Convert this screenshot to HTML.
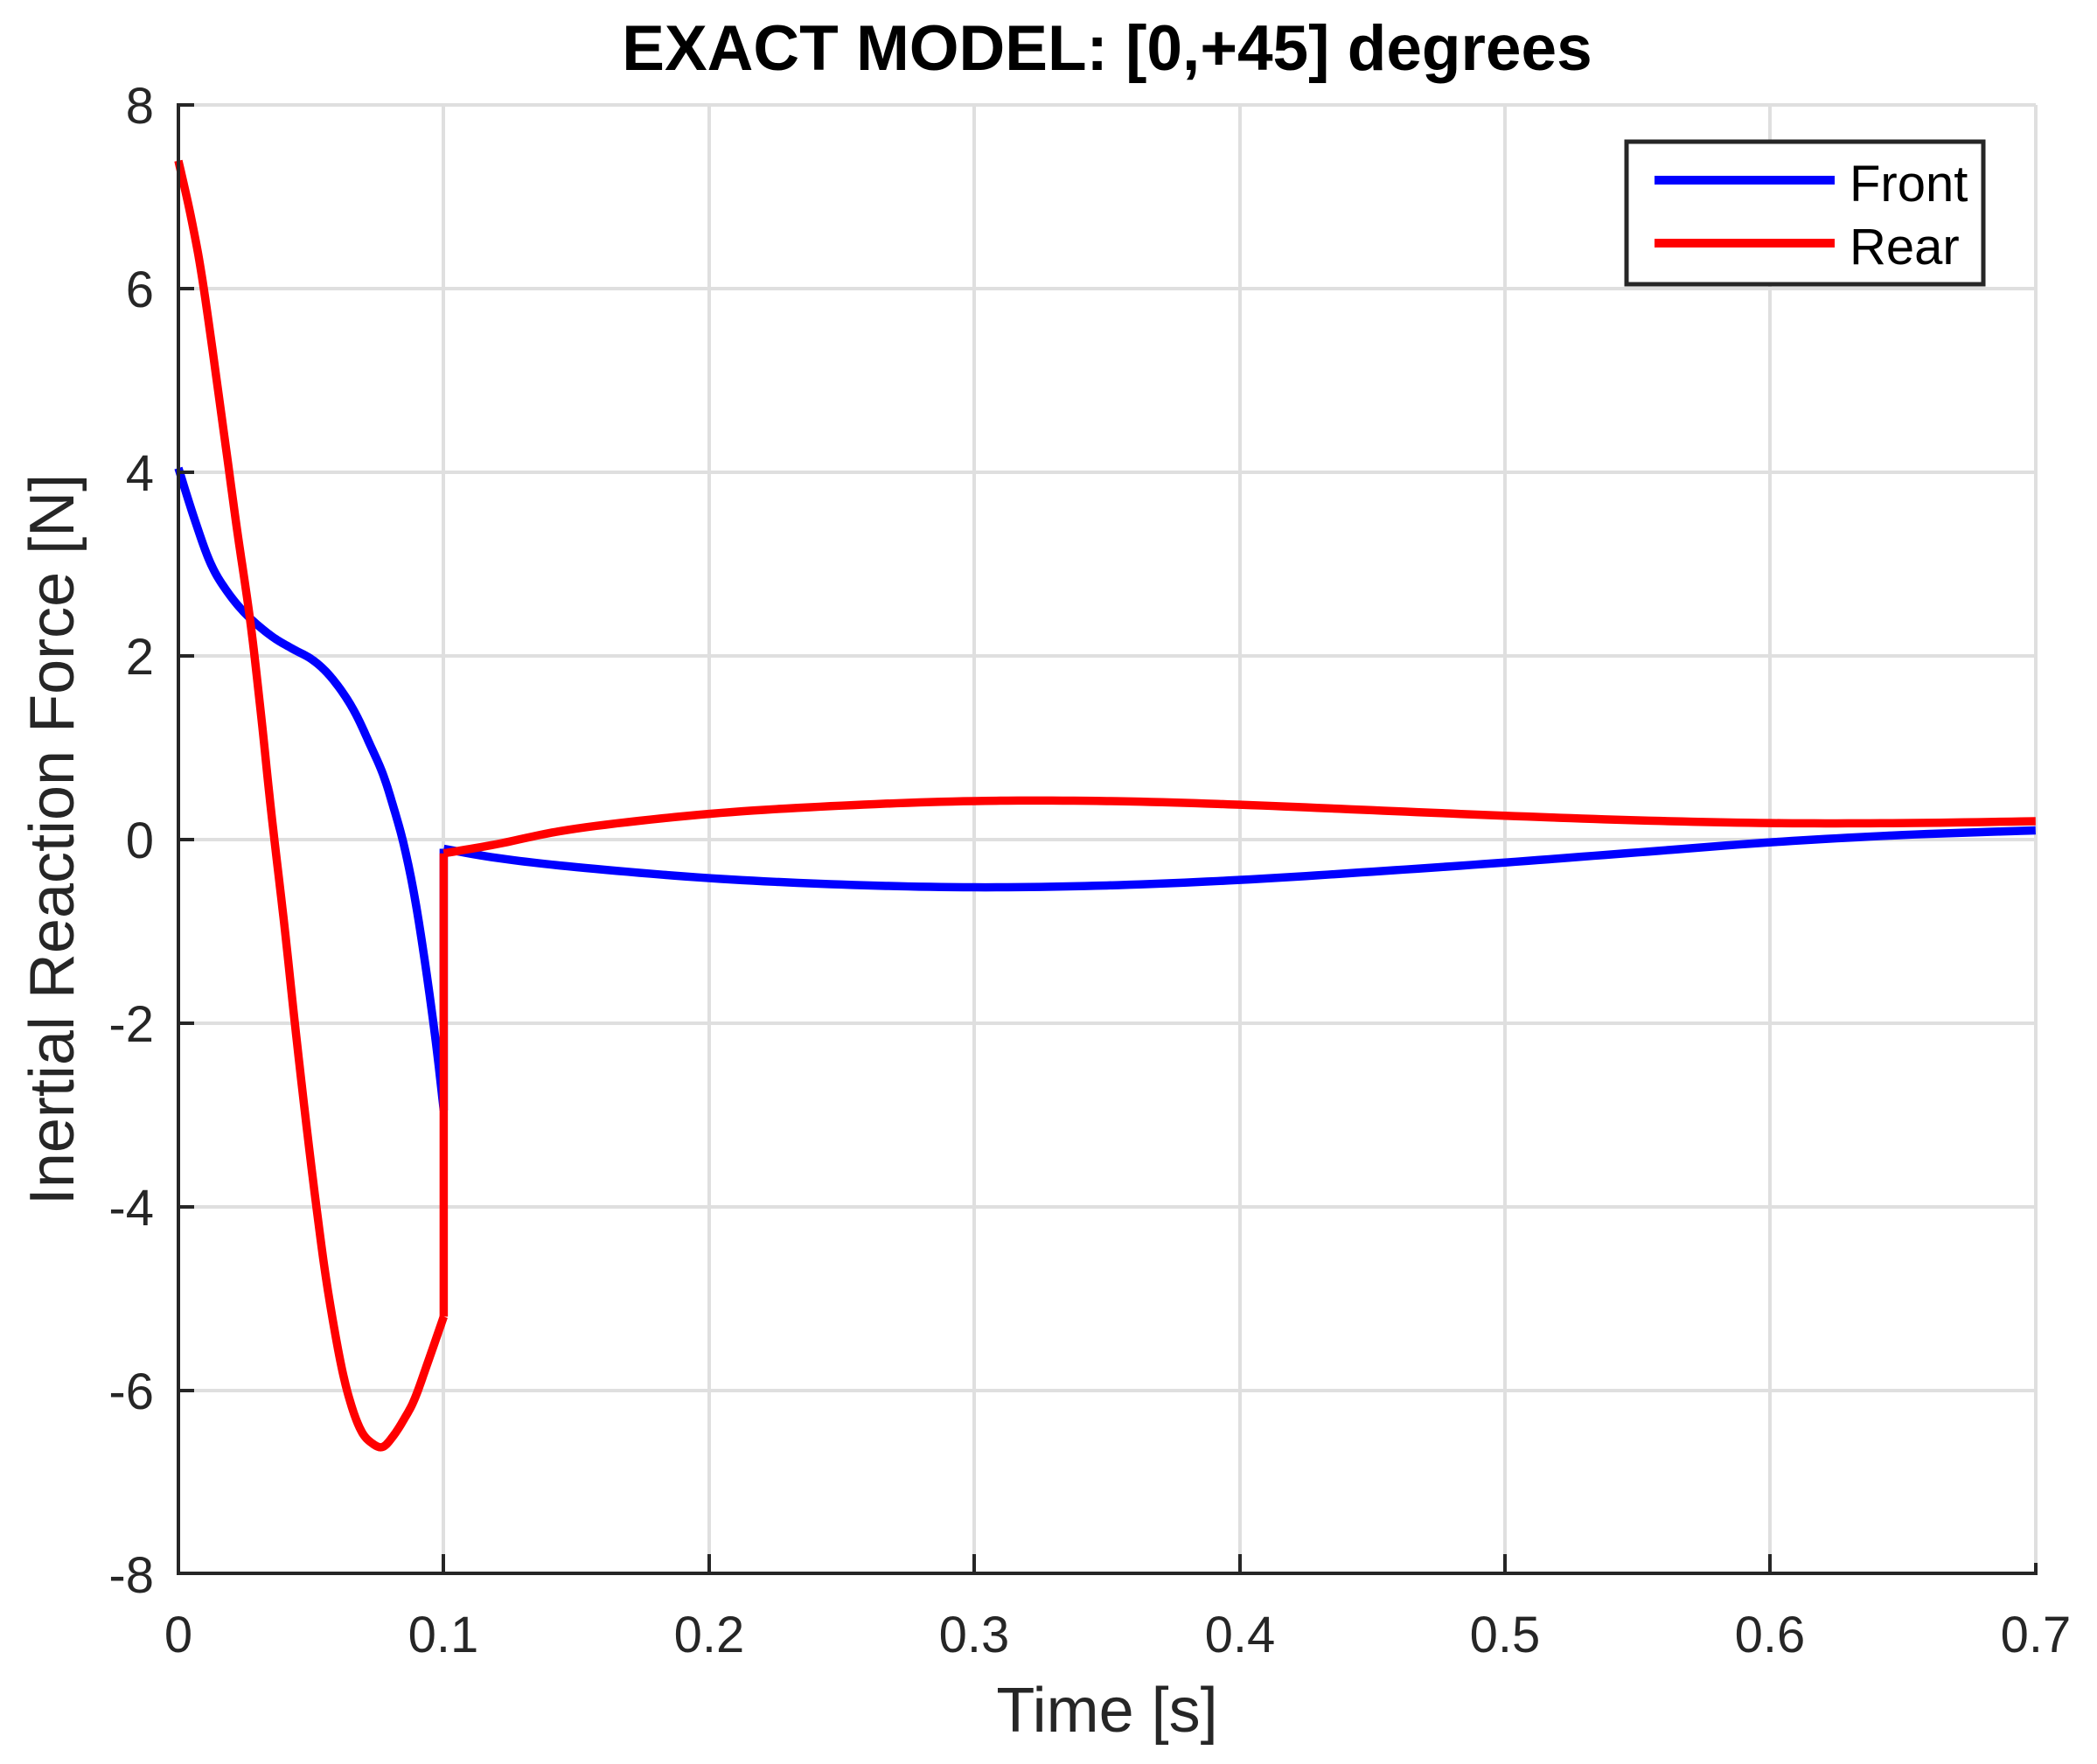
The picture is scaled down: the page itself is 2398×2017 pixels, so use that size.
<!DOCTYPE html>
<html><head><meta charset="utf-8"><style>
html,body{margin:0;padding:0;background:#fff;}
svg{display:block;font-family:"Liberation Sans",Arial,sans-serif;}
</style></head><body>
<svg width="2398" height="2017" viewBox="0 0 2398 2017" xmlns="http://www.w3.org/2000/svg">
<rect width="2398" height="2017" fill="#fff"/>
<g stroke="#dfdfdf" stroke-width="4">
<line x1="507" y1="120" x2="507" y2="1799"/><line x1="811" y1="120" x2="811" y2="1799"/>
<line x1="1114" y1="120" x2="1114" y2="1799"/><line x1="1418" y1="120" x2="1418" y2="1799"/>
<line x1="1721" y1="120" x2="1721" y2="1799"/><line x1="2024" y1="120" x2="2024" y2="1799"/>
<line x1="2328" y1="120" x2="2328" y2="1799"/>
<line x1="204" y1="120" x2="2328" y2="120"/><line x1="204" y1="330" x2="2328" y2="330"/>
<line x1="204" y1="540" x2="2328" y2="540"/><line x1="204" y1="750" x2="2328" y2="750"/>
<line x1="204" y1="960" x2="2328" y2="960"/><line x1="204" y1="1170" x2="2328" y2="1170"/>
<line x1="204" y1="1380" x2="2328" y2="1380"/><line x1="204" y1="1590" x2="2328" y2="1590"/>
</g>
<g transform="translate(204,960) scale(3034,-104.9)" fill="none" stroke-width="9.5" stroke-linejoin="round" stroke-linecap="butt">
<polyline class="sm" vector-effect="non-scaling-stroke" stroke="#0000ff" points="0,4.05 0.006,3.5 0.012,3.02 0.018,2.72 0.0257,2.45 0.035,2.22 0.043,2.08 0.05,1.97 0.056,1.82 0.062,1.6 0.067,1.36 0.072,1.05 0.077,0.72 0.081,0.36 0.085,-0.06 0.089,-0.62 0.093,-1.35 0.097,-2.2 0.1,-2.95"/>
<polyline vector-effect="non-scaling-stroke" stroke="#0000ff" points="0.1,-2.95 0.1,-0.1"/>
<polyline class="sm" vector-effect="non-scaling-stroke" stroke="#0000ff" points="0.1,-0.1 0.12,-0.2 0.15,-0.3 0.2,-0.42 0.25,-0.49 0.3,-0.52 0.35,-0.5 0.4,-0.44 0.45,-0.35 0.5,-0.25 0.55,-0.14 0.6,-0.03 0.65,0.05 0.7,0.1"/>
<polyline class="sm" vector-effect="non-scaling-stroke" stroke="#ff0000" points="0,7.4 0.005,6.75 0.0096,6.0 0.0174,4.38 0.022,3.4 0.027,2.4 0.031,1.4 0.035,0.3 0.04,-0.95 0.044,-2.03 0.048,-3.05 0.052,-4.0 0.056,-4.85 0.061,-5.68 0.065,-6.15 0.069,-6.45 0.073,-6.58 0.077,-6.62 0.081,-6.5 0.085,-6.32 0.089,-6.1 0.094,-5.7 0.1,-5.2"/>
<polyline vector-effect="non-scaling-stroke" stroke="#ff0000" points="0.1,-5.2 0.1,-0.15"/>
<polyline class="sm" vector-effect="non-scaling-stroke" stroke="#ff0000" points="0.1,-0.15 0.12,-0.05 0.15,0.12 0.2,0.28 0.25,0.37 0.3,0.42 0.35,0.42 0.4,0.38 0.45,0.32 0.5,0.26 0.55,0.21 0.6,0.18 0.65,0.18 0.7,0.2"/>
</g>
<g stroke="#262626" stroke-width="4" fill="none">
<path d="M204,118 V1799 H2328 V1787"/>
<line x1="204" y1="120" x2="222" y2="120"/><line x1="204" y1="330" x2="222" y2="330"/><line x1="204" y1="540" x2="222" y2="540"/><line x1="204" y1="750" x2="222" y2="750"/><line x1="204" y1="960" x2="222" y2="960"/><line x1="204" y1="1170" x2="222" y2="1170"/><line x1="204" y1="1380" x2="222" y2="1380"/><line x1="204" y1="1590" x2="222" y2="1590"/>
<line x1="507" y1="1799" x2="507" y2="1777"/><line x1="811" y1="1799" x2="811" y2="1777"/><line x1="1114" y1="1799" x2="1114" y2="1777"/><line x1="1418" y1="1799" x2="1418" y2="1777"/><line x1="1721" y1="1799" x2="1721" y2="1777"/><line x1="2024" y1="1799" x2="2024" y2="1777"/>
</g>
<g fill="#262626" font-size="58" text-anchor="end">
<text x="176" y="141">8</text><text x="176" y="351">6</text><text x="176" y="561">4</text><text x="176" y="771">2</text><text x="176" y="981">0</text><text x="176" y="1191">-2</text><text x="176" y="1401">-4</text><text x="176" y="1611">-6</text><text x="176" y="1821">-8</text>
</g>
<g fill="#262626" font-size="58" text-anchor="middle">
<text x="204" y="1889">0</text><text x="507" y="1889">0.1</text><text x="811" y="1889">0.2</text><text x="1114" y="1889">0.3</text><text x="1418" y="1889">0.4</text><text x="1721" y="1889">0.5</text><text x="2024" y="1889">0.6</text><text x="2328" y="1889">0.7</text>
</g>
<text x="1266" y="1980" font-size="72" fill="#262626" text-anchor="middle">Time [s]</text>
<text transform="translate(84,960) rotate(-90)" font-size="72" fill="#262626" text-anchor="middle">Inertial Reaction Force [N]</text>
<text x="1266" y="80" font-size="73" font-weight="bold" fill="#000" text-anchor="middle">EXACT MODEL: [0,+45] degrees</text>
<rect x="1860" y="162" width="408" height="163" fill="#fff" stroke="#262626" stroke-width="5"/>
<line x1="1892" y1="206" x2="2098" y2="206" stroke="#0000ff" stroke-width="10"/>
<line x1="2098" y1="278" x2="1892" y2="278" stroke="#ff0000" stroke-width="10"/>
<text x="2115" y="230" font-size="58" fill="#000">Front</text>
<text x="2115" y="302" font-size="58" fill="#000">Rear</text>
</svg>
<script>
document.querySelectorAll('polyline.sm').forEach(function(pl){
  var p=pl.getAttribute('points').trim().split(/\s+/).map(function(s){var a=s.split(',');return [+a[0],+a[1]];});
  var out=[];
  for(var i=0;i<p.length-1;i++){
    var p0=p[Math.max(i-1,0)],p1=p[i],p2=p[i+1],p3=p[Math.min(i+2,p.length-1)];
    for(var k=0;k<12;k++){
      var t=k/12,t2=t*t,t3=t2*t;
      var f=function(a,b,c,d){return 0.5*((2*b)+(-a+c)*t+(2*a-5*b+4*c-d)*t2+(-a+3*b-3*c+d)*t3);};
      out.push(f(p0[0],p1[0],p2[0],p3[0]).toFixed(5)+','+f(p0[1],p1[1],p2[1],p3[1]).toFixed(4));
    }
  }
  var l=p[p.length-1];out.push(l[0]+','+l[1]);
  pl.setAttribute('points',out.join(' '));
});
</script>
</body></html>
